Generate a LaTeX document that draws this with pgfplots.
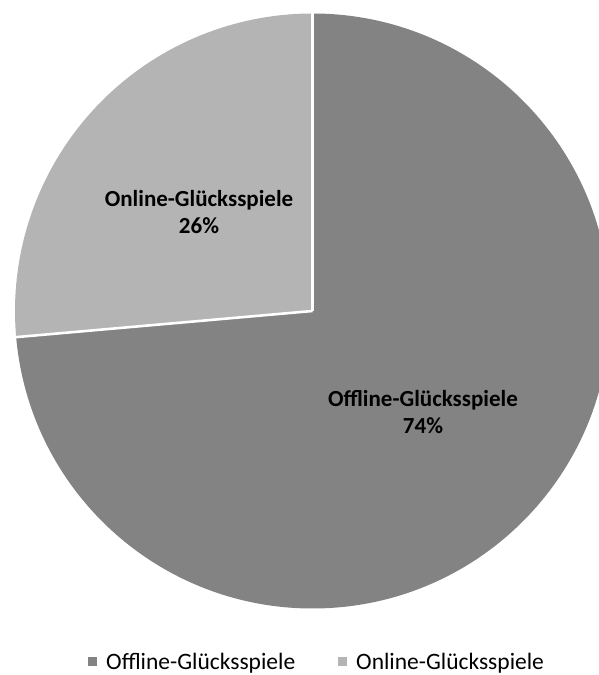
\documentclass[border=0pt]{standalone}
\usepackage{pgfplots}
\pgfplotsset{compat=1.18}
\usepackage{pgfplotstable}
\usepackage{fontspec}
\setmainfont{Carlito}
\definecolor{offc}{HTML}{838383}
\definecolor{onc}{HTML}{B4B4B4}
\pgfplotstableread{
label value
Offline 73.6
Online 26.4
}\piedata
\begin{document}
\begin{tikzpicture}
\useasboundingbox (0,0) rectangle (599pt,675pt);
\pgfplotstablegetelem{0}{value}\of\piedata \let\offv\pgfplotsretval
\pgfplotstablegetelem{1}{value}\of\piedata \let\onv\pgfplotsretval
\pgfmathsetmacro\frac{\offv/(\offv+\onv)}
\pgfmathsetmacro\splitang{90-360*\frac}
\pgfmathsetmacro\endang{90-360}
\begin{axis}[
  at={(0,0)}, anchor=south west,
  width=599pt, height=675pt, scale only axis,
  xmin=0, xmax=599, ymin=0, ymax=675,
  hide axis, clip=true,
]
\fill[offc] (axis cs:312.5,364) -- ++(90:297.5pt) arc[start angle=90, end angle=\splitang, radius=297.5pt] -- cycle;
\fill[onc] (axis cs:312.5,364) -- ++(\splitang:297.5pt) arc[start angle=\splitang, end angle=\endang, radius=297.5pt] -- cycle;
\draw[white, line width=2.6pt] (axis cs:312.5,364) -- ++(90:302pt);
\draw[white, line width=2.6pt] (axis cs:312.5,364) -- ++(\splitang:302pt);
\node[anchor=base, font=\fontsize{23}{27}\selectfont\bfseries] at (axis cs:199,468.3) {Online-Glücksspiele};
\node[anchor=base, font=\fontsize{23}{27}\selectfont\bfseries] at (axis cs:199,441.7) {\pgfmathprintnumber[fixed,precision=0,assume math mode=true]{\onv}\%};
\node[anchor=base, font=\fontsize{23}{27}\selectfont\bfseries] at (axis cs:423,268.3) {Offline-Glücksspiele};
\node[anchor=base, font=\fontsize{23}{27}\selectfont\bfseries] at (axis cs:423,241.7) {\pgfmathprintnumber[fixed,precision=0,assume math mode=true]{\offv}\%};
\fill[offc] (axis cs:88.3,8.5) rectangle (axis cs:97.3,17.5);
\node[anchor=base west, inner sep=0pt, font=\fontsize{23.5}{28}\selectfont] at (axis cs:106,5.5) {Offline-Glücksspiele};
\fill[onc] (axis cs:338,8.5) rectangle (axis cs:347,17.5);
\node[anchor=base west, inner sep=0pt, font=\fontsize{23.5}{28}\selectfont] at (axis cs:356,5.5) {Online-Glücksspiele};
\end{axis}
\end{tikzpicture}
\end{document}
